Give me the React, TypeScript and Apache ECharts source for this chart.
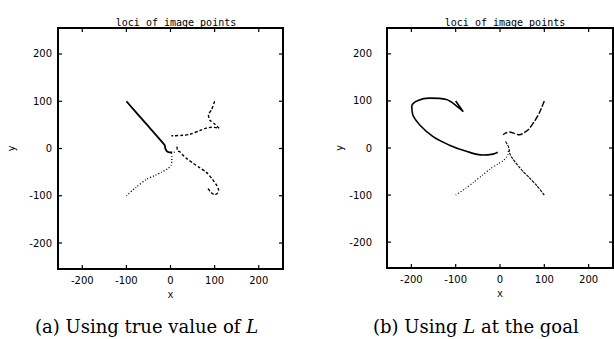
import React, { useEffect, useRef } from "react";
import * as echarts from "echarts";

// ---- data ----
const tickValues = [-200, -100, 0, 100, 200];
const axisMin = -255;
const axisMax = 255;

// (a) Using true value of L
const leftSolid = [[-100, 100], [-55, 52], [-13, 7], [-12, 1], [-9, -5], [-3, -8], [4, -8]];
const leftDotted = [[-100, -100], [-78, -82], [-54, -65], [-35, -57], [-20, -50], [-5, -42], [1, -36], [3, -26], [3, -16], [2, -11], [8, -8], [14, -7]];
const leftDashA = [[100, 100], [93, 82], [86, 71], [89, 60], [100, 52], [110, 43], [104, 44], [93, 45], [81, 43], [66, 38], [44, 30], [28, 28], [6, 27], [2, 27]];
const leftDashB = [[85, -85], [92, -93], [100, -98], [106, -95], [109, -88], [104, -77], [95, -65], [81, -50], [65, -40], [51, -31], [35, -20], [28, -14], [21, -7], [16, -5], [15, 1], [14, 9]];

// (b) Using L at the goal
const rightLoop = [[-100, 100], [-83, 77], [-95, 87], [-121, 103], [-159, 106], [-185, 101], [-199, 89], [-197, 71], [-181, 49], [-151, 24], [-114, 6], [-76, -7], [-39, -15], [-16, -13], [-5, -9]];
const rightDash = [[100, 100], [94, 86], [88, 73], [78, 57], [65, 40], [52, 31], [44, 28], [32, 31], [22, 34], [13, 32], [7, 28]];
const rightDotted = [[-100, -100], [-78, -86], [-60, -73], [-40, -58], [-23, -45], [-5, -34], [7, -27], [14, -20], [18, -13], [19, -6]];
const rightThin = [[100, -100], [83, -80], [66, -63], [52, -50], [44, -41], [35, -31], [28, -22], [22, -12], [21, -5], [19, 3], [15, 10], [12, 14]];

const plotTitle = "loci of image points";
const captionA = "(a) Using true value of ";
const captionB1 = "(b) Using ";
const captionB2 = " at the goal";

const mono = "DejaVu Sans Mono";
const labelFont = { color: "#000", fontSize: 10, fontFamily: "DejaVu Sans" };
const TICK_LEN = 4;

function xAxis(gridIndex: number) {
  return {
    type: "value", gridIndex, min: axisMin, max: axisMax, position: "bottom",
    axisLine: { show: false, onZero: false }, splitLine: { show: false },
    axisTick: { show: false },
    axisLabel: { show: true, customValues: tickValues, margin: 6, ...labelFont },
    name: "x", nameLocation: "middle", nameGap: 19,
    nameTextStyle: { fontFamily: mono, fontSize: 10, color: "#000" },
  };
}

function yAxis(gridIndex: number, labelMargin: number, nameGap: number) {
  return {
    type: "value", gridIndex, min: axisMin, max: axisMax, position: "left",
    axisLine: { show: false, onZero: false }, splitLine: { show: false },
    axisTick: { show: false },
    axisLabel: { show: true, customValues: tickValues, margin: labelMargin, ...labelFont },
    name: "y", nameLocation: "middle", nameGap, nameRotate: 90,
    nameTextStyle: { fontFamily: mono, fontSize: 10, color: "#000" },
  };
}

function line(data: number[][], idx: number, width: number, type: any, smooth = 0.25) {
  return {
    type: "line", data, xAxisIndex: idx, yAxisIndex: idx, showSymbol: false, smooth,
    lineStyle: { color: "#000", width, type },
    silent: true,
  };
}

// inward ticks on all four sides, placed through the axes' own scales
function ticks(idx: number) {
  return {
    type: "custom", xAxisIndex: idx, yAxisIndex: idx, silent: true, clip: false, z: 5,
    data: tickValues.map((v) => [v, v]),
    renderItem: (_p: any, api: any) => {
      const v = api.value(0);
      const b = api.coord([v, axisMin]);
      const t = api.coord([v, axisMax]);
      const l = api.coord([axisMin, v]);
      const r = api.coord([axisMax, v]);
      const st = { stroke: "#000", lineWidth: 1.2 };
      return {
        type: "group",
        children: [
          { type: "line", shape: { x1: b[0], y1: b[1], x2: b[0], y2: b[1] - TICK_LEN }, style: st },
          { type: "line", shape: { x1: t[0], y1: t[1], x2: t[0], y2: t[1] + TICK_LEN }, style: st },
          { type: "line", shape: { x1: l[0], y1: l[1], x2: l[0] + TICK_LEN, y2: l[1] }, style: st },
          { type: "line", shape: { x1: r[0], y1: r[1], x2: r[0] - TICK_LEN, y2: r[1] }, style: st },
        ],
      };
    },
  };
}

const captionRich = { i: { fontFamily: "DejaVu Serif", fontStyle: "italic", fontSize: 18, fill: "#000" } };

export default function App() {
  const ref = useRef<HTMLDivElement>(null);
  useEffect(() => {
    document.body.style.margin = "0";
    const chart = echarts.init(ref.current!, null, { renderer: "svg" });
    chart.setOption({
      animation: false,
      backgroundColor: "#fff",
      grid: [
        { left: 58, top: 28, width: 225, height: 241, show: true, borderColor: "#000", borderWidth: 2 },
        { left: 387, top: 28, width: 226, height: 240, show: true, borderColor: "#000", borderWidth: 2 },
      ],
      xAxis: [xAxis(0), xAxis(1)],
      yAxis: [yAxis(0, 6, 42), yAxis(1, 15, 43)],
      title: [
        { text: plotTitle, left: 171, top: 12, textAlign: "center", textStyle: { fontFamily: mono, fontSize: 10, fontWeight: "normal", color: "#000" } },
        { text: plotTitle, left: 500, top: 12, textAlign: "center", textStyle: { fontFamily: mono, fontSize: 10, fontWeight: "normal", color: "#000" } },
      ],
      graphic: [
        {
          type: "text", left: 35, top: 317,
          style: { text: captionA + "{i|L}", font: "18px 'DejaVu Serif'", fill: "#000", rich: captionRich },
        },
        {
          type: "text", left: 373, top: 317,
          style: { text: captionB1 + "{i|L}" + captionB2, font: "18px 'DejaVu Serif'", fill: "#000", rich: captionRich },
        },
      ],
      series: [
        line(leftSolid, 0, 1.8, "solid", 0.15),
        line(leftDotted, 0, 1.4, [1, 2]),
        line(leftDashA, 0, 1.4, [3, 2]),
        line(leftDashB, 0, 1.4, [3, 2]),
        line(rightLoop, 1, 1.6, "solid", 0.35),
        line(rightDash, 1, 1.4, [6, 2]),
        line(rightDotted, 1, 1.2, [1, 2]),
        line(rightThin, 1, 1.1, [3, 1]),
        ticks(0),
        ticks(1),
      ],
    });
    return () => chart.dispose();
  }, []);
  return <div ref={ref} style={{ width: 614, height: 339, position: "absolute", left: 0, top: 0 }} />;
}
